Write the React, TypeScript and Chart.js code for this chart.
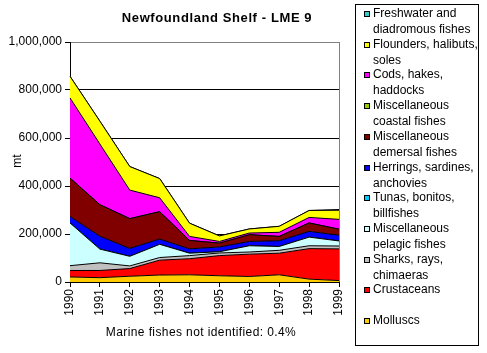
import { useEffect, useRef } from "react";
import { Chart, registerables } from "chart.js";

Chart.register(...registerables);

const years = ["1990", "1991", "1992", "1993", "1994", "1995", "1996", "1997", "1998", "1999"];

// values in tonnes (mt), stacked bottom to top
const molluscs = [21000, 18000, 24000, 29000, 30000, 26000, 23000, 30000, 12000, 6000];
const crustaceans = [27000, 30000, 32000, 62000, 67000, 84000, 93000, 90000, 127000, 132000];
const sharks = [20000, 32000, 11000, 11000, 13000, 11000, 9000, 12000, 12000, 12000];
const pelagic = [178000, 57000, 40000, 55000, 10000, 5000, 26000, 16000, 36000, 21000];
const tunas = [0, 0, 0, 0, 0, 0, 0, 0, 0, 0];
const herrings = [27000, 54000, 33000, 22000, 18000, 20000, 18000, 24000, 24000, 24000];
const demersal = [160000, 131000, 124000, 114000, 35000, 16000, 28000, 18000, 35000, 25000];
const coastal = [0, 0, 0, 0, 0, 0, 0, 0, 0, 0];
const cods = [334000, 253000, 119000, 58000, 17000, 7000, 7000, 17000, 23000, 41000];
const flounders = [90000, 95000, 98000, 80000, 55000, 23000, 17000, 25000, 29000, 38000];
const freshwater = [0, 0, 0, 0, 0, 0, 0, 0, 0, 3000];

const yTicks = [0, 200000, 400000, 600000, 800000, 1000000];

const titleText = "Newfoundland Shelf - LME 9";
const yTitle = "mt";
const footnote = "Marine fishes not identified: 0.4%";

// stacking order bottom -> top
const series = [
  { label: ["Molluscs"], color: "#FFCC00", data: molluscs },
  { label: ["Crustaceans"], color: "#FF0000", data: crustaceans },
  { label: ["Sharks, rays,", "chimaeras"], color: "#C0C0C0", data: sharks },
  { label: ["Miscellaneous", "pelagic fishes"], color: "#CCFFFF", data: pelagic },
  { label: ["Tunas, bonitos,", "billfishes"], color: "#00CCFF", data: tunas },
  { label: ["Herrings, sardines,", "anchovies"], color: "#0000FF", data: herrings },
  { label: ["Miscellaneous", "demersal fishes"], color: "#800000", data: demersal },
  { label: ["Miscellaneous", "coastal fishes"], color: "#99CC00", data: coastal },
  { label: ["Cods, hakes,", "haddocks"], color: "#FF00FF", data: cods },
  { label: ["Flounders, halibuts,", "soles"], color: "#FFFF00", data: flounders },
  { label: ["Freshwater and", "diadromous fishes"], color: "#33CCCC", data: freshwater },
];

const FONT = "'Liberation Sans', Arial, sans-serif";

const decorPlugin = {
  id: "decor",
  afterDraw(chart: any) {
    const ctx = chart.ctx as CanvasRenderingContext2D;
    const area = chart.chartArea;
    ctx.save();
    // right plot border (gray)
    ctx.strokeStyle = "#808080";
    ctx.lineWidth = 1;
    ctx.beginPath();
    ctx.moveTo(Math.round(area.right) + 0.5, area.top);
    ctx.lineTo(Math.round(area.right) + 0.5, area.bottom);
    ctx.stroke();

    ctx.fillStyle = "#000";
    // title
    ctx.font = `bold 13px ${FONT}`;
    (ctx as any).letterSpacing = "0.6px";
    ctx.textAlign = "center";
    ctx.textBaseline = "middle";
    ctx.fillText(titleText, 217, 18);
    (ctx as any).letterSpacing = "0px";

    // y title
    ctx.save();
    ctx.translate(17.5, 161);
    ctx.rotate(-Math.PI / 2);
    ctx.font = `12px ${FONT}`;
    ctx.fillText(yTitle, 0, 0);
    ctx.restore();

    // footnote
    ctx.font = `12px ${FONT}`;
    (ctx as any).letterSpacing = "0.4px";
    ctx.textAlign = "center";
    ctx.textBaseline = "alphabetic";
    ctx.fillText(footnote, 201, 336);
    (ctx as any).letterSpacing = "0px";

    // legend box
    ctx.strokeStyle = "#000";
    ctx.lineWidth = 1;
    ctx.strokeRect(355.5, 4.5, 123, 341);
    const items = [...series].reverse();
    ctx.font = `12px ${FONT}`;
    ctx.textAlign = "left";
    ctx.textBaseline = "middle";
    items.forEach((s, i) => {
      const cy = Math.round(14 + 30.7 * i);
      ctx.fillStyle = s.color;
      ctx.fillRect(364, cy - 3, 6, 6);
      ctx.strokeStyle = "#000";
      ctx.strokeRect(364.5, cy - 2.5, 5, 5);
      ctx.fillStyle = "#000";
      s.label.forEach((line, j) => {
        ctx.fillText(line, 373, cy + j * 15.3);
      });
    });
    ctx.restore();
  },
};

export default function App() {
  const ref = useRef<HTMLCanvasElement | null>(null);
  useEffect(() => {
    document.body.style.margin = "0";
    const canvas = ref.current;
    if (!canvas) return;
    const chart = new Chart(canvas, {
      type: "line",
      data: {
        labels: years,
        datasets: series.map((s, i) => ({
          label: s.label.join(" "),
          data: s.data,
          backgroundColor: s.color,
          borderColor: "#000",
          borderWidth: 1,
          pointRadius: 0,
          tension: 0,
          fill: i === 0 ? "origin" : "-1",
        })),
      },
      options: {
        responsive: false,
        animation: false,
        events: [],
        layout: { padding: { left: 0, top: 42, right: 148, bottom: 0 } },
        plugins: {
          legend: { display: false },
          title: { display: false },
          tooltip: { enabled: false },
        },
        scales: {
          x: {
            type: "category",
            offset: false,
            grid: {
              display: true,
              drawOnChartArea: false,
              drawTicks: true,
              tickLength: 5,
              color: "#000",
            },
            border: { display: true, color: "#000", width: 1 },
            ticks: {
              autoSkip: false,
              minRotation: 90,
              maxRotation: 90,
              padding: 2,
              color: "#000",
              font: { family: FONT, size: 12 },
            },
            afterFit: (scale: any) => {
              scale.height = 71;
            },
          },
          y: {
            stacked: true,
            min: 0,
            max: 1000000,
            afterBuildTicks: (scale: any) => {
              scale.ticks = yTicks.map((v) => ({ value: v }));
            },
            grid: {
              color: (c: any) => (c.tick && c.tick.value === 1000000 ? "#808080" : "#000"),
              tickColor: "#000",
              tickLength: 5,
              lineWidth: 1,
            },
            border: { display: true, color: "#000", width: 1 },
            ticks: {
              padding: 3,
              color: "#000",
              font: { family: FONT, size: 12 },
              callback: (v: any) => Number(v).toLocaleString("en-US"),
            },
            afterFit: (scale: any) => {
              scale.width = 70;
            },
          },
        },
      },
      plugins: [decorPlugin],
    });
    return () => chart.destroy();
  }, []);
  return (
    <div style={{ width: 487, height: 353 }}>
      <canvas ref={ref} width={487} height={353} style={{ display: "block" }} />
    </div>
  );
}
